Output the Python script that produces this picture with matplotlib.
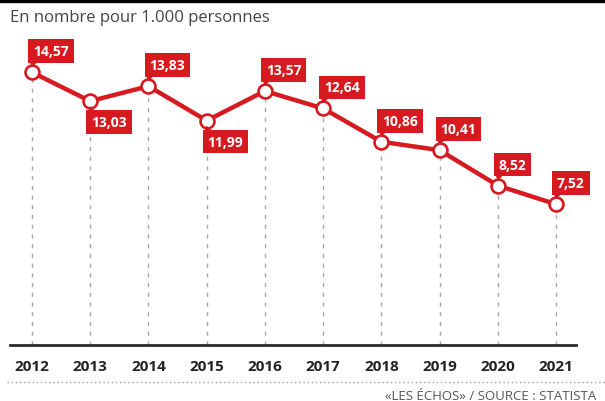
"""
Births per 1,000 people, 2012-2021 (Les Echos / Statista style line chart).
"""
import matplotlib.pyplot as plt
import matplotlib.transforms as mtransforms
from matplotlib.patches import Polygon
from matplotlib.lines import Line2D

YEARS = [2012, 2013, 2014, 2015, 2016, 2017, 2018, 2019, 2020, 2021]
VALUES = [14.57, 13.03, 13.83, 11.99, 13.57, 12.64, 10.86, 10.41, 8.52, 7.52]
LABELS = ["14,57", "13,03", "13,83", "11,99", "13,57", "12,64", "10,86", "10,41", "8,52", "7,52"]
BELOW = {2013, 2015}                      # labels that hang under the point

RED = "#d71920"
DPI = 100
plt.rcParams["font.family"] = ["Open Sans", "DejaVu Sans"]

fig = plt.figure(figsize=(6.05, 4.02), dpi=DPI)
ax = fig.add_axes([10 / 605, 56 / 402, 566 / 605, 306 / 402])

# guide lines from each point down to the baseline
ax.vlines(YEARS, 0, VALUES, color="#a8a8a8", lw=1.0, linestyles=(0, (3, 4)), zorder=1)

ax.plot(YEARS, VALUES, color=RED, lw=3.2, marker="o", ms=10, mfc="white",
        mec=RED, mew=1.9, zorder=3, solid_joinstyle="round")

# red flag labels with a small tail pointing at the point
px = 1 / DPI
for yr, v, lab in zip(YEARS, VALUES, LABELS):
    s = -1 if yr in BELOW else 1
    ax.annotate(lab, (yr, v), xytext=(1, s * 21), textcoords="offset pixels",
                ha="left", va="center", color="white", fontsize=10, fontweight="bold",
                bbox=dict(boxstyle="square,pad=0.35", fc=RED, ec="none"), zorder=5)
    trans = fig.dpi_scale_trans + mtransforms.ScaledTranslation(yr, v, ax.transData)
    tail = [(-3 * px, s * 12 * px), (7 * px, s * 12 * px), (0, s * 5 * px)]
    ax.add_patch(Polygon(tail, closed=True, fc=RED, ec="none", transform=trans, zorder=5))

ax.set_xlim(2011.622, 2021.343)
ax.set_ylim(0, 16.35)
ax.set_xticks(YEARS)
ax.set_xticklabels([str(y) for y in YEARS], fontsize=11, fontweight="bold", color="#222222")
ax.tick_params(axis="x", length=0, pad=10)
ax.set_yticks([])
for side in ("top", "right", "left"):
    ax.spines[side].set_visible(False)
ax.spines["bottom"].set_color("#2a2a2a")
ax.spines["bottom"].set_linewidth(2.0)

# header bar, title, footer
fig.add_artist(Line2D([0, 1], [1, 1], transform=fig.transFigure, color="black", lw=6))
fig.text(10 / 605, 1 - 18 / 402, "En nombre pour 1.000 personnes", fontsize=12,
         color="#444444", va="center", ha="left")
fig.add_artist(Line2D([0.012, 1], [1 - 383 / 402] * 2, transform=fig.transFigure,
                      color="#9a9a9a", lw=1.0, ls=(0, (1, 2))))
fig.text(596 / 605, 1 - 397 / 402, "«LES ÉCHOS» / SOURCE : STATISTA", fontsize=9.5,
         color="#555555", va="center", ha="right")

fig.savefig("out.png", dpi=DPI)
